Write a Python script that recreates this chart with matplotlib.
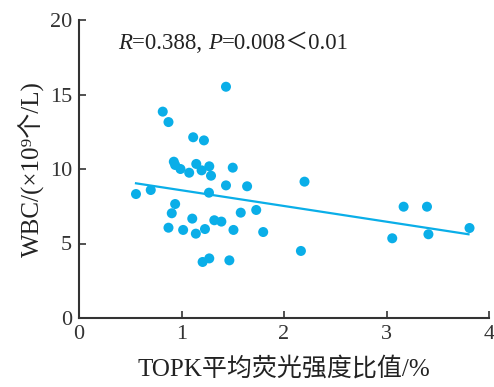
import matplotlib.pyplot as plt

# scatter data
topk = [0.556, 0.70, 0.817, 0.873, 0.925, 0.938, 0.99, 1.075, 1.114, 1.219,
        1.144, 1.196, 1.271, 1.288, 1.50, 1.434, 1.434, 1.64, 1.268, 0.938,
        0.905, 1.105, 1.32, 1.389, 1.578, 1.729, 0.873, 1.016, 1.14, 1.229,
        1.507, 1.797, 1.206, 1.271, 1.467, 2.165, 2.20, 3.167, 3.395, 3.056,
        3.409, 3.81]
wbc = [8.32, 8.59, 13.85, 13.15, 10.49, 10.27, 10.0, 9.75, 12.13, 11.92,
       10.34, 9.91, 10.18, 9.55, 10.09, 15.52, 8.9, 8.84, 8.41, 7.65,
       7.03, 6.67, 6.56, 6.47, 7.07, 7.25, 6.06, 5.91, 5.66, 5.97,
       5.91, 5.77, 3.76, 4.0, 3.87, 4.5, 9.15, 7.47, 7.47, 5.35,
       5.62, 6.04]

# regression line endpoints
fit_x = [0.556, 3.80]
fit_y = [9.04, 5.62]

xticks = [0, 1, 2, 3, 4]
yticks = [0, 5, 10, 15, 20]

# annotation pieces: (text, italic?)
note = [('R', True), ('=0.388, ', False), ('P', True), ('=0.008＜0.01', False)]

COLOR = '#0aaee8'
FAM = ['Liberation Serif', 'Noto Sans CJK SC']
plt.rcParams['font.family'] = FAM

fig = plt.figure(figsize=(4.94, 3.87), dpi=100)
ax = fig.add_axes([79/494, 1-318/387, 410/494, 298/387])

ax.plot(fit_x, fit_y, color=COLOR, lw=1.6, zorder=2)
ax.scatter(topk, wbc, s=52, color=COLOR, edgecolors='none', zorder=3)

ax.set_xlim(0, 4)
ax.set_ylim(0, 20)
ax.set_xticks(xticks)
ax.set_yticks(yticks)
ax.tick_params(direction='in', length=5, width=1.2, labelsize=16,
               colors='#333333', pad=5)
for s in ['top', 'right']:
    ax.spines[s].set_visible(False)
for s in ['left', 'bottom']:
    ax.spines[s].set_linewidth(1.5)
    ax.spines[s].set_color('#333333')

ax.set_xlabel('TOPK平均荧光强度比值/%', fontsize=18, color='#222222', labelpad=9)
ax.set_ylabel('WBC/(×10⁹个/L)', fontsize=18, color='#222222', labelpad=4)

# place the annotation piece by piece on a common baseline
fig.canvas.draw()
r = fig.canvas.get_renderer()
xpix, ypix = ax.transData.transform((0.38, 18.05))
for txt, it in note:
    t = fig.text(xpix / fig.dpi / 4.94, ypix / fig.dpi / 3.87, txt,
                 fontsize=16.5, style='italic' if it else 'normal',
                 va='baseline', ha='left', color='#222222')
    xpix += t.get_window_extent(r).width

fig.savefig('out.png', dpi=100)
